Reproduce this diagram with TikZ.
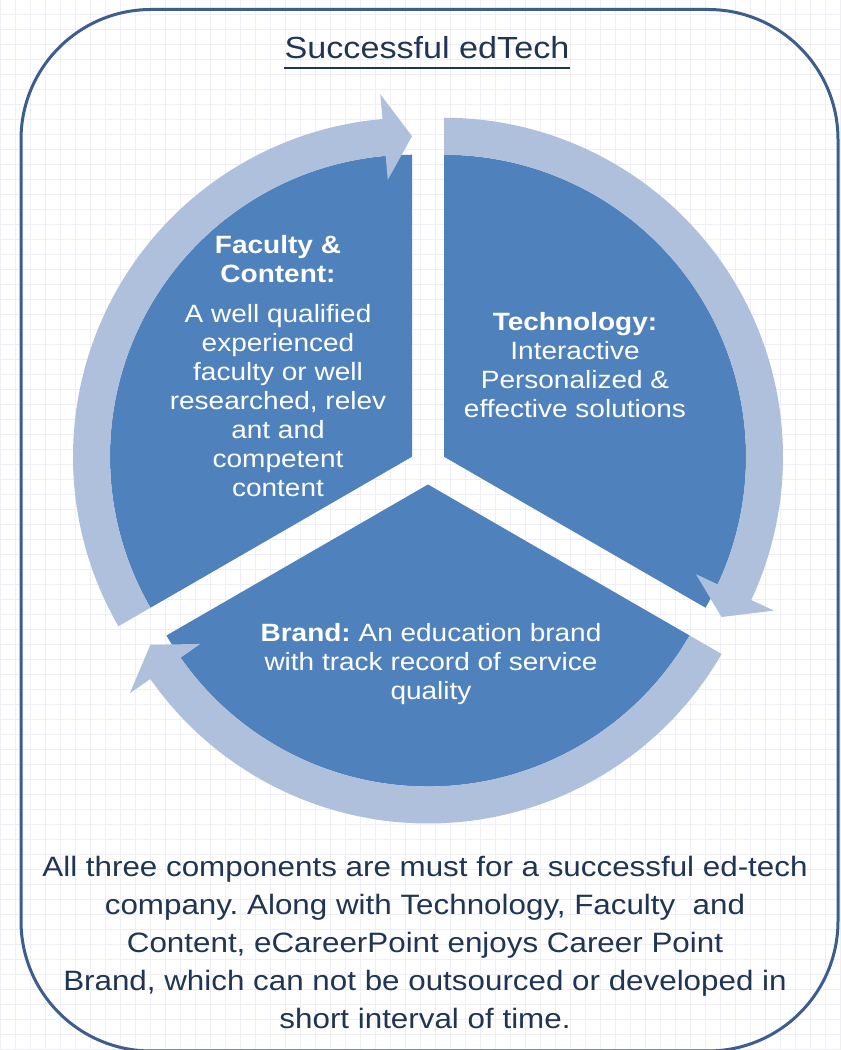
\documentclass[tikz,border=0pt]{standalone}
\usepackage{fontspec}
\setmainfont[FakeStretch=1.12]{Liberation Sans}
\definecolor{sectorblue}{HTML}{4F81BD}
\definecolor{arrowblue}{HTML}{AFC0DC}
\definecolor{framecolor}{HTML}{3B5E8C}
\definecolor{textnavy}{HTML}{1F3552}
\definecolor{gridcolor}{HTML}{EEEEF4}
\frenchspacing

\begin{document}
\begin{tikzpicture}[x=1pt, y=1pt,
    sector/.style={fill=sectorblue},
    cyclearrow/.style={fill=arrowblue},
    sectortext/.style={text=white, align=center, font=\fontsize{25}{29}\selectfont},
    bodytext/.style={text=textnavy, align=center, font=\fontsize{28}{38}\selectfont}]
    \useasboundingbox (0, 0) rectangle (841, 1050);
    % background paper
    \fill[white] (0, 0) rectangle (841, 1050);
    \draw[gridcolor, line width=1pt] (0, 0) grid[step=15pt] (841, 1050);
    % frame
    \draw[framecolor, line width=3pt, rounded corners=130pt] (21, -1) rectangle (838, 1040.5);

    % centres of the three segments
    \coordinate (cl) at (412, 593.25);
    \coordinate (cr) at (444, 593.25);
    \coordinate (cb) at (428, 565.5);

    % segments
    \fill[sector] (cl) -- ++(90:302) arc[start angle=90, end angle=210, radius=302pt] -- cycle;
    \fill[sector] (cr) -- ++(-30:302) arc[start angle=-30, end angle=90, radius=302pt] -- cycle;
    \fill[sector] (cb) -- ++(210:302) arc[start angle=210, end angle=330, radius=302pt] -- cycle;

    % arrows round the segments
    \begin{scope}[shift={(cl)}]
        \fill[cyclearrow] (210:302) arc[start angle=210, end angle=95, radius=302pt] -- (95:278) -- (90:320.5) -- (95:364) -- (95:339) arc[start angle=95, end angle=210, radius=339pt] -- cycle;
    \end{scope}
    \begin{scope}[shift={(cr)}]
        \fill[cyclearrow] (90:302) arc[start angle=90, end angle=-25, radius=302pt] -- (-25:278) -- (-30:320.5) -- (-25:364) -- (-25:339) arc[start angle=-25, end angle=90, radius=339pt] -- cycle;
    \end{scope}
    \begin{scope}[shift={(cb)}]
        \fill[cyclearrow] (-30:302) arc[start angle=-30, end angle=-145, radius=302pt] -- (-145:278) -- (-150:320.5) -- (-145:364) -- (-145:339) arc[start angle=-145, end angle=-30, radius=339pt] -- cycle;
    \end{scope}

    % texts
    \node[anchor=base, inner sep=0, text=textnavy, font=\fontsize{30.5}{34}\selectfont] (title) at (427, 991) {Successful edTech};
    \draw[textnavy, line width=2.5pt] ([yshift=-9pt]title.base west) -- ([yshift=-9pt]title.base east);
    \node[sectortext] (faculty) at (278, 683.5) {\textbf{Faculty \&}\\\textbf{Content:}\\[11pt]A well qualified\\experienced\\faculty or well\\researched, relev\\ant and\\competent\\content};
    \node[sectortext] (technology) at (575, 684.5) {\textbf{Technology:}\\Interactive\\Personalized \&\\effective solutions};
    \node[sectortext] (brand) at (431, 386) {\textbf{Brand:} An education brand\\with track record of service\\quality};
    \node[bodytext] (summary) at (425, 108) {All three components are must for a successful ed-tech\\company. Along with Technology, Faculty\ \ and\\Content, eCareerPoint enjoys Career Point\\Brand, which can not be outsourced or developed in\\short interval of time.};
\end{tikzpicture}
\end{document}
